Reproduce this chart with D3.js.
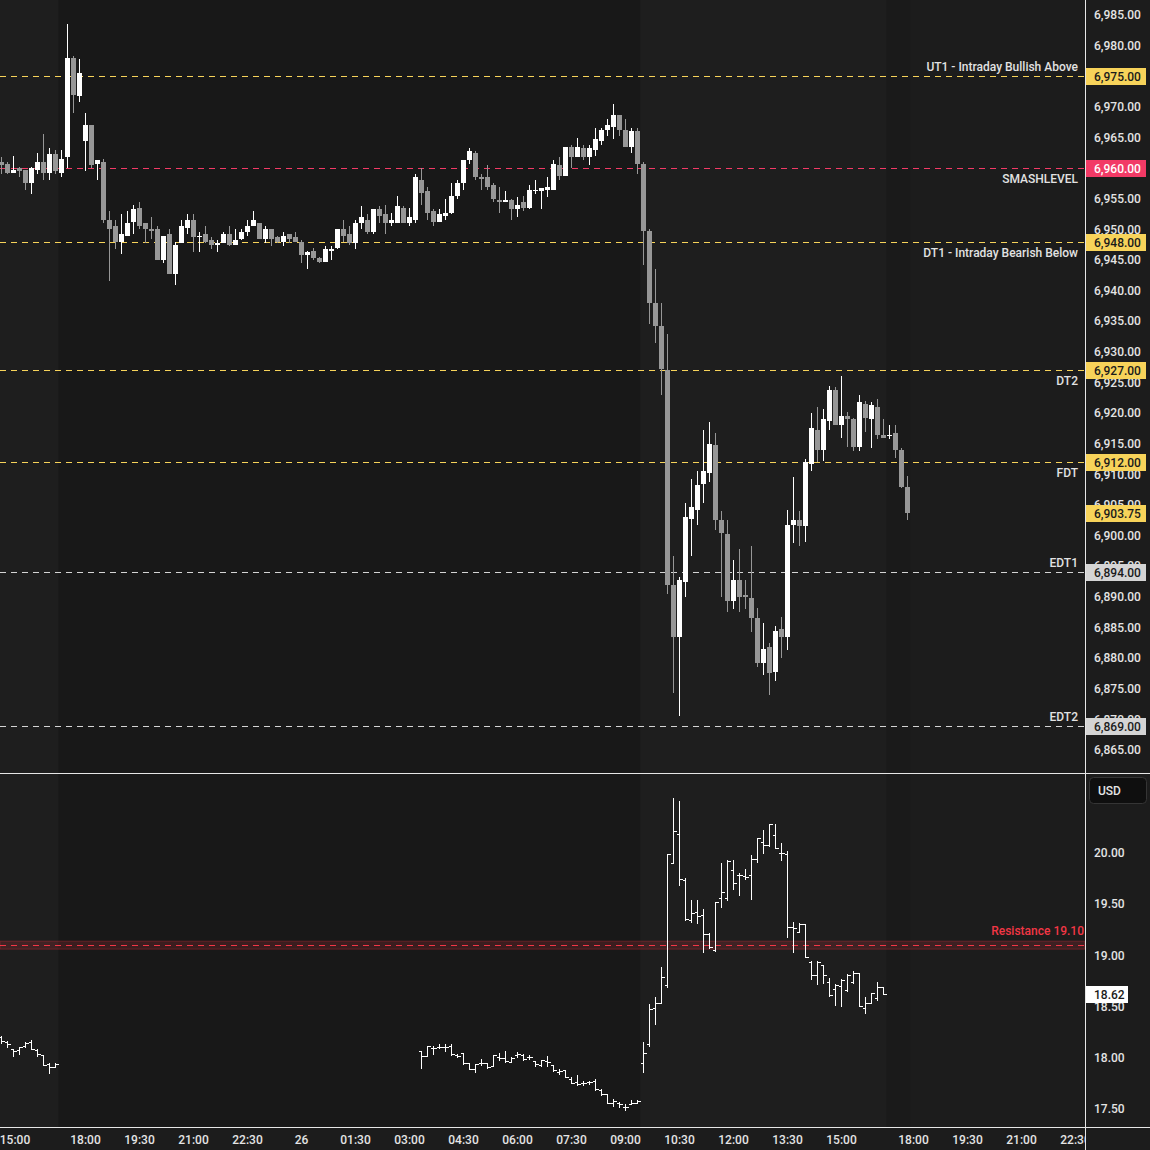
<!DOCTYPE html>
<html>
<head>
<meta charset="utf-8">
<script src="https://cdn.jsdelivr.net/npm/d3@7"></script>
<style>
  html, body { margin: 0; padding: 0; background: #1c1c1c; }
  svg { display: block; font-family: Roboto, "Liberation Sans", sans-serif; font-weight: 500; }
</style>
</head>
<body>
<svg id="chart"></svg>
<script>
const chartWidth = 1150;
const chartHeight = 1150;
const plotRight = 1085;
const mainBottom = 773;
const subBottom = 1127;
const barSpacing = 6;
const bodyWidth = 5;

// ES 10 minute candles, bar 0 = 14:40, bar 14 = 18:00 (session break skipped)
const esOpen = [
  6961, 6960.75, 6959.25, 6960, 6959.75, 6957.5, 6959.75, 6961, 6959.25, 6962.25,
  6959.25, 6961.75, 6978, 6971.75, 6964.5, 6967, 6960.75, 6961, 6951.5, 6950.5,
  6948, 6949, 6951.25, 6953.5, 6951, 6950, 6950, 6945, 6949.25, 6942.75,
  6947.75, 6950.25, 6951.5, 6948.75, 6949.25, 6948.25, 6947.5, 6947.75, 6949.25, 6947.5,
  6948.5, 6949.5, 6950.5, 6951, 6948.5, 6950, 6948.75, 6948, 6949.25, 6948.75,
  6948, 6945.75, 6946.5, 6945.25, 6944.75, 6946.5, 6947, 6950, 6949.25, 6947.75,
  6951, 6951.5, 6949.5, 6953.25, 6952.5, 6951, 6951, 6953.5, 6951, 6951.5,
  6958, 6956.25, 6953, 6951.25, 6952.25, 6952.75, 6955.5, 6957.5, 6961.25, 6962.5,
  6958.5, 6958.5, 6957.25, 6954.75, 6954.5, 6954.75, 6953.25, 6954.5, 6953.5, 6956.25,
  6956.25, 6956.5, 6956.5, 6960.5, 6958.75, 6963.5, 6961.75, 6963.25, 6961.75, 6963,
  6964.5, 6966.25, 6966.75, 6968.75, 6966.25, 6963.5, 6966, 6960.75, 6949.75, 6938,
  6934.25, 6927, 6892, 6883.5, 6892.5, 6902.75, 6904.25, 6908.5, 6910.25, 6914.75,
  6902.5, 6900.25, 6889.25, 6892.75, 6890.25, 6889.75, 6886.5, 6879.25, 6881.75, 6877.75,
  6884.75, 6883.5, 6901.75, 6902.5, 6901.5, 6911.75, 6917.25, 6914, 6918.75, 6923.75,
  6918, 6919.5, 6919, 6914.5, 6921.5, 6919, 6921, 6916.5, 6916.25, 6916.75,
  6914, 6908
];
const esHigh = [
  6961.75, 6961, 6962, 6960.25, 6959.75, 6960.25, 6962.5, 6965.5, 6963.25, 6963,
  6963, 6983.5, 6978.25, 6977.75, 6969, 6967, 6961.25, 6961.5, 6953, 6951.5,
  6952.5, 6953, 6954, 6954.5, 6951, 6952, 6950.5, 6949, 6950, 6948,
  6951.5, 6952.5, 6952.5, 6949.5, 6950.5, 6948.75, 6948.25, 6949.5, 6950.5, 6950,
  6950, 6951.5, 6953, 6951, 6950.5, 6950, 6949, 6949.5, 6949.25, 6949.5,
  6948.25, 6946.5, 6947, 6945.5, 6947.25, 6947.25, 6950, 6951.5, 6950.5, 6951.5,
  6953.75, 6952.5, 6953.25, 6953.75, 6954, 6952.75, 6955.5, 6953.75, 6953.5, 6959,
  6960, 6957, 6953.25, 6953.25, 6955, 6957.5, 6958, 6961.25, 6963.25, 6962.75,
  6959, 6960.5, 6957.5, 6957, 6956.25, 6955, 6955.25, 6955.5, 6957.25, 6958,
  6956.75, 6958.5, 6961.25, 6961.75, 6963.5, 6963.75, 6965, 6963.75, 6963.75, 6966.5,
  6966.5, 6968, 6970.5, 6968.75, 6968, 6966.5, 6966.5, 6961, 6950, 6943.5,
  6938, 6933, 6896.75, 6893.25, 6905.25, 6909.25, 6910.5, 6917.25, 6918.5, 6916.75,
  6904, 6902.5, 6896, 6897.75, 6892.75, 6898.25, 6888.25, 6885.75, 6882.5, 6885.25,
  6886.75, 6904.25, 6909.5, 6904, 6912.5, 6920, 6921, 6920.75, 6924.5, 6924.25,
  6926, 6920.25, 6919.25, 6923, 6922, 6921.75, 6922.25, 6919, 6918, 6918,
  6914.25, 6909.75
];
const esLow = [
  6959, 6959, 6959.25, 6958.5, 6956.5, 6955.75, 6959, 6958, 6958, 6959,
  6958.5, 6960, 6969, 6970.75, 6959.5, 6960, 6958, 6951, 6941.5, 6946.75,
  6946, 6949, 6949.25, 6950, 6947.75, 6948.5, 6945, 6944.5, 6942.75, 6941,
  6947.75, 6949.25, 6946.25, 6946.25, 6947.75, 6946.75, 6946.25, 6947.75, 6947.25, 6947.5,
  6948.25, 6949, 6950.5, 6948.5, 6947.75, 6947.25, 6947.75, 6947.25, 6947.75, 6948,
  6944.5, 6943.5, 6945, 6944.5, 6944.75, 6945, 6946.75, 6948, 6947.5, 6946.75,
  6950, 6949.25, 6949.25, 6951, 6949.25, 6950.5, 6951, 6951, 6950.5, 6951,
  6954, 6951.5, 6950.5, 6951.25, 6951.5, 6952.5, 6955, 6956.5, 6960.75, 6958,
  6956.5, 6956.5, 6954.5, 6952.75, 6954.5, 6951.5, 6952, 6953, 6953.25, 6955.75,
  6953.25, 6955.25, 6956.5, 6958, 6958.75, 6960, 6961.75, 6961.25, 6960.5, 6962,
  6963.75, 6965.25, 6964.75, 6965.25, 6963.5, 6962.5, 6959, 6944.25, 6934.5, 6931.5,
  6923, 6890.5, 6874.25, 6870.5, 6890, 6896.75, 6901.75, 6905.25, 6908.75, 6901,
  6890, 6887.5, 6888, 6887.5, 6888, 6884.25, 6878.5, 6877.25, 6874, 6876.25,
  6880, 6881.25, 6898.75, 6898.25, 6899, 6910.5, 6912, 6912.25, 6917.25, 6918,
  6916, 6914.5, 6913.75, 6913.75, 6917, 6914.25, 6915.75, 6916, 6915.75, 6912.75,
  6907.75, 6902.5
];
const esClose = [
  6960.5, 6959.25, 6959.75, 6959.5, 6957.5, 6960, 6961, 6959.25, 6962.25, 6959.5,
  6961.5, 6978, 6972, 6975.5, 6967, 6960.5, 6961.25, 6951.5, 6950, 6948,
  6949.25, 6951, 6953.25, 6950.5, 6950, 6949.75, 6945, 6949, 6942.75, 6947.5,
  6950.5, 6951.5, 6948.75, 6949, 6948, 6947.5, 6947.75, 6949.25, 6947.5, 6948.25,
  6949.5, 6950.5, 6951.5, 6948.5, 6950, 6948.5, 6948, 6949, 6948.5, 6948,
  6945.75, 6946.25, 6945.25, 6944.75, 6946.75, 6946.75, 6950, 6949, 6947.75, 6951,
  6952, 6949.5, 6953.25, 6952.25, 6951, 6951.5, 6953.75, 6951, 6952, 6958.5,
  6956, 6952.75, 6951.25, 6952.5, 6952.75, 6955.5, 6957.5, 6961.25, 6962.75, 6958.5,
  6958.25, 6957, 6955, 6954.5, 6954.75, 6953.25, 6954, 6953.5, 6956.5, 6956.5,
  6956.75, 6957, 6960.75, 6958.75, 6963.5, 6961.75, 6963.5, 6961.75, 6963.25, 6964.75,
  6966.25, 6967, 6968.75, 6966.25, 6963.5, 6966, 6960.75, 6949.75, 6938, 6934.25,
  6927.25, 6892, 6883.5, 6892.75, 6903, 6904.75, 6908.25, 6910.5, 6915, 6902.5,
  6900.5, 6889.25, 6892.75, 6890, 6890, 6886.5, 6879.25, 6881.5, 6877.5, 6884.5,
  6883.5, 6901.75, 6902.5, 6901.5, 6912, 6917.5, 6914, 6919, 6923.75, 6918,
  6919.5, 6919, 6914.5, 6921.75, 6919.25, 6921.25, 6916.5, 6916, 6916.5, 6914,
  6908, 6903.75
];

// VIX 10 minute bars (no prints between 16:15 and 03:15, none at 09:20)
const vixBar = d3.range(0, 10).concat(d3.range(70, 148));
const vixOpen = [
  18.20, 18.15, 18.09, 18.08, 18.12, 18.15, 18.08, 18.03, 17.94, 17.91,
  18.07, 18.02, 18.10, 18.11, 18.11, 18.12, 18.03, 18.05, 17.95, 17.89,
  17.95, 17.95, 17.92, 18.01, 18.00, 17.96, 18.03, 18.03, 18.01, 17.97,
  17.93, 17.97, 17.93, 17.86, 17.88, 17.79, 17.76, 17.75, 17.76, 17.77,
  17.69, 17.65, 17.56, 17.56, 17.52, 17.55, 17.56,
  17.95, 18.13, 18.49, 18.54, 18.71, 19.90, 20.19, 19.74, 19.35, 19.42,
  19.39, 19.21, 19.05, 19.56, 19.56, 19.83, 19.79, 19.78, 19.79, 19.94,
  20.11, 20.08, 20.18, 20.00, 19.99, 19.28, 19.23, 19.31, 18.94, 18.81,
  18.91, 18.74, 18.67, 18.70, 18.66, 18.74, 18.83, 18.49, 18.54, 18.58,
  18.69
];
const vixHigh = [
  18.21, 18.16, 18.09, 18.11, 18.15, 18.17, 18.09, 18.03, 17.95, 17.95,
  18.07, 18.12, 18.12, 18.13, 18.13, 18.13, 18.04, 18.05, 17.95, 17.94,
  17.99, 17.95, 18.03, 18.05, 18.07, 18.01, 18.06, 18.04, 18.03, 17.97,
  17.98, 18.02, 17.93, 17.89, 17.88, 17.81, 17.83, 17.77, 17.77, 17.79,
  17.70, 17.65, 17.60, 17.57, 17.55, 17.59, 17.59,
  18.15, 18.53, 18.59, 18.89, 19.99, 20.54, 20.51, 19.76, 19.54, 19.54,
  19.45, 19.22, 19.52, 19.90, 19.93, 19.93, 19.80, 19.84, 19.98, 20.15,
  20.22, 20.28, 20.28, 20.10, 20.02, 19.33, 19.32, 19.31, 18.95, 18.95,
  18.91, 18.78, 18.72, 18.77, 18.82, 18.85, 18.83, 18.59, 18.63, 18.74,
  18.69
];
const vixLow = [
  18.14, 18.11, 18.02, 18.04, 18.11, 18.09, 18.02, 17.93, 17.85, 17.91,
  17.90, 18.02, 18.04, 18.10, 18.07, 18.03, 18.01, 17.94, 17.89, 17.86,
  17.93, 17.90, 17.92, 17.98, 17.96, 17.96, 18.01, 17.98, 17.99, 17.92,
  17.92, 17.92, 17.87, 17.84, 17.81, 17.75, 17.73, 17.73, 17.74, 17.69,
  17.64, 17.56, 17.53, 17.52, 17.49, 17.55, 17.56,
  17.86, 18.12, 18.33, 18.54, 18.69, 19.90, 19.69, 19.35, 19.33, 19.32,
  19.03, 19.07, 19.04, 19.47, 19.54, 19.65, 19.59, 19.75, 19.55, 19.91,
  20.00, 20.07, 20.05, 19.93, 19.18, 19.03, 19.23, 18.98, 18.77, 18.72,
  18.73, 18.60, 18.52, 18.51, 18.65, 18.73, 18.51, 18.44, 18.54, 18.56,
  18.62
];
const vixClose = [
  18.16, 18.13, 18.07, 18.11, 18.14, 18.09, 18.04, 17.93, 17.91, 17.94,
  18.02, 18.12, 18.10, 18.11, 18.11, 18.04, 18.02, 17.95, 17.89, 17.94,
  17.95, 17.91, 18.03, 18.00, 17.97, 18.00, 18.04, 17.99, 18.01, 17.94,
  17.98, 17.96, 17.88, 17.87, 17.81, 17.75, 17.74, 17.75, 17.76, 17.70,
  17.65, 17.56, 17.58, 17.55, 17.52, 17.56, 17.58,
  18.05, 18.48, 18.54, 18.79, 19.99, 20.21, 19.75, 19.36, 19.41, 19.38,
  19.21, 19.08, 19.52, 19.62, 19.92, 19.71, 19.79, 19.77, 19.94, 20.15,
  20.08, 20.28, 20.05, 20.00, 19.28, 19.27, 19.31, 18.98, 18.81, 18.94,
  18.81, 18.61, 18.71, 18.76, 18.81, 18.83, 18.51, 18.54, 18.63, 18.69,
  18.62
];

const levelNames = ['UT1 - Intraday Bullish Above', 'SMASHLEVEL', 'DT1 - Intraday Bearish Below', 'DT2', 'FDT', 'EDT1', 'EDT2'];
const levelPrices = [6975, 6960, 6948, 6927, 6912, 6894, 6869];
const lastPrice = 6903.75;
const resistanceValue = 19.10;
const lastVix = 18.62;

const timeLabels = ['15:00', '18:00', '19:30', '21:00', '22:30', '26', '01:30', '03:00', '04:30', '06:00',
  '07:30', '09:00', '10:30', '12:00', '13:30', '15:00', '18:00', '19:30', '21:00', '22:30'];
const timeLabelBars = [2, 14, 23, 32, 41, 50, 59, 68, 77, 86, 95, 104, 113, 122, 131, 140, 152, 161, 170, 179];
// regular session covers bars up to 9, then 107..147
const sessionEdges = [9.5, 106.5, 147.5, 151.5];

function levelColor(name) {
  if (name === 'SMASHLEVEL') return '#f23a66';
  if (name.indexOf('EDT') === 0) return '#d4d4d4';
  return '#f7d35a';
}

function labelAbove(name) {
  return name.indexOf('UT1') === 0 || name.indexOf('EDT') === 0;
}

const xScale = d3.scaleLinear().domain([0, 180]).range([1.5, 1.5 + 180 * barSpacing]);
const yMain = d3.scaleLinear().domain([6865, 6985]).range([750, 15]);
const ySub = d3.scaleLinear().domain([17.5, 20]).range([1109, 853]);

const svg = d3.select('#chart')
  .attr('width', chartWidth)
  .attr('height', chartHeight);

const defs = svg.append('defs');
defs.append('clipPath').attr('id', 'clipMain')
  .append('rect').attr('x', 0).attr('y', 0).attr('width', plotRight).attr('height', mainBottom);
defs.append('clipPath').attr('id', 'clipSub')
  .append('rect').attr('x', 0).attr('y', mainBottom + 1).attr('width', plotRight).attr('height', subBottom - mainBottom - 1);
defs.append('clipPath').attr('id', 'clipTime')
  .append('rect').attr('x', 0).attr('y', subBottom).attr('width', plotRight).attr('height', chartHeight - subBottom);

svg.append('rect')
  .attr('width', chartWidth)
  .attr('height', chartHeight)
  .attr('fill', '#1c1c1c');

// ===========================================================================
//      session backgrounds
// ===========================================================================
const bandFills = ['#1e1e1e', '#181818', '#1e1e1e', '#1a1a1a', '#1c1c1c'];
const bandEdges = [0].concat(sessionEdges.map(function (b) { return xScale(b); })).concat([plotRight]);
[[0, mainBottom], [mainBottom + 1, subBottom]].forEach(function (panel) {
  svg.append('g')
    .selectAll('rect')
    .data(bandFills)
    .enter()
    .append('rect')
    .attr('x', function (d, i) { return bandEdges[i]; })
    .attr('y', panel[0])
    .attr('width', function (d, i) { return bandEdges[i + 1] - bandEdges[i]; })
    .attr('height', panel[1] - panel[0])
    .attr('fill', function (d) { return d; });
});

// ===========================================================================
//      level lines
// ===========================================================================
const levels = levelNames.map(function (name, i) {
  return { name, price: levelPrices[i], color: levelColor(name) };
});

const levelGroup = svg.append('g').attr('clip-path', 'url(#clipMain)');
levelGroup.selectAll('line')
  .data(levels)
  .enter()
  .append('line')
  .attr('x1', 0)
  .attr('x2', plotRight)
  .attr('y1', function (d) { return Math.round(yMain(d.price)) + 0.5; })
  .attr('y2', function (d) { return Math.round(yMain(d.price)) + 0.5; })
  .attr('stroke', function (d) { return d.color; })
  .attr('stroke-width', 1)
  .attr('stroke-dasharray', '6,5');

levelGroup.selectAll('text')
  .data(levels)
  .enter()
  .append('text')
  .text(function (d) { return d.name; })
  .attr('x', 1078)
  .attr('y', function (d) {
    return labelAbove(d.name) ? yMain(d.price) - 5 : yMain(d.price) + 15;
  })
  .attr('text-anchor', 'end')
  .attr('font-size', 12)
  .attr('fill', '#e2e2e2');

// ===========================================================================
//      candles
// ===========================================================================
const candles = esOpen.map(function (o, i) {
  return { i, o, h: esHigh[i], l: esLow[i], c: esClose[i] };
});

const candleGroup = svg.append('g')
  .attr('clip-path', 'url(#clipMain)')
  .attr('shape-rendering', 'crispEdges');

const candle = candleGroup.selectAll('g')
  .data(candles)
  .enter()
  .append('g');

candle.append('line')
  .attr('x1', function (d) { return xScale(d.i); })
  .attr('x2', function (d) { return xScale(d.i); })
  .attr('y1', function (d) { return yMain(d.h); })
  .attr('y2', function (d) { return yMain(d.l); })
  .attr('stroke', function (d) { return d.c >= d.o ? '#ffffff' : '#979797'; })
  .attr('stroke-width', 1);

candle.append('rect')
  .attr('x', function (d) { return xScale(d.i) - bodyWidth / 2; })
  .attr('y', function (d) { return yMain(Math.max(d.o, d.c)); })
  .attr('width', bodyWidth)
  .attr('height', function (d) { return Math.max(1, Math.abs(yMain(d.o) - yMain(d.c))); })
  .attr('fill', function (d) { return d.c >= d.o ? '#ffffff' : '#979797'; });

// ===========================================================================
//      lower pane: resistance + VIX bars
// ===========================================================================
const subGroup = svg.append('g').attr('clip-path', 'url(#clipSub)');

subGroup.append('rect')
  .attr('x', 0)
  .attr('y', ySub(resistanceValue) - 4)
  .attr('width', plotRight)
  .attr('height', 8)
  .attr('fill', 'rgba(242,54,69,0.16)')
  .attr('stroke', 'rgba(242,54,69,0.28)');

subGroup.append('line')
  .attr('x1', 0)
  .attr('x2', plotRight)
  .attr('y1', Math.round(ySub(resistanceValue)) + 0.5)
  .attr('y2', Math.round(ySub(resistanceValue)) + 0.5)
  .attr('stroke', '#f23645')
  .attr('stroke-width', 1)
  .attr('stroke-dasharray', '6,5');

subGroup.append('text')
  .text('Resistance ' + d3.format('.2f')(resistanceValue))
  .attr('x', 1084)
  .attr('y', ySub(resistanceValue) - 10)
  .attr('text-anchor', 'end')
  .attr('font-size', 12)
  .attr('fill', '#f23645');

const vix = vixBar.map(function (b, i) {
  return { b, o: vixOpen[i], h: vixHigh[i], l: vixLow[i], c: vixClose[i] };
});

const vixBars = subGroup.append('g')
  .attr('shape-rendering', 'crispEdges')
  .attr('stroke', '#ffffff')
  .attr('stroke-width', 1)
  .selectAll('g')
  .data(vix)
  .enter()
  .append('g');

vixBars.append('line')
  .attr('x1', function (d) { return xScale(d.b); })
  .attr('x2', function (d) { return xScale(d.b); })
  .attr('y1', function (d) { return ySub(d.h); })
  .attr('y2', function (d) { return ySub(d.l) + 1; });
vixBars.append('line')
  .attr('x1', function (d) { return xScale(d.b) - 3; })
  .attr('x2', function (d) { return xScale(d.b); })
  .attr('y1', function (d) { return Math.round(ySub(d.o)) + 0.5; })
  .attr('y2', function (d) { return Math.round(ySub(d.o)) + 0.5; });
vixBars.append('line')
  .attr('x1', function (d) { return xScale(d.b); })
  .attr('x2', function (d) { return xScale(d.b) + 3.5; })
  .attr('y1', function (d) { return Math.round(ySub(d.c)) + 0.5; })
  .attr('y2', function (d) { return Math.round(ySub(d.c)) + 0.5; });

// ===========================================================================
//      frame lines
// ===========================================================================
svg.append('g')
  .attr('stroke', '#e6e6e6')
  .attr('shape-rendering', 'crispEdges')
  .selectAll('line')
  .data([[plotRight + 0.5, 0, plotRight + 0.5, chartHeight], [0, mainBottom + 0.5, chartWidth, mainBottom + 0.5], [0, subBottom + 0.5, chartWidth, subBottom + 0.5]])
  .enter()
  .append('line')
  .attr('x1', function (d) { return d[0]; })
  .attr('y1', function (d) { return d[1]; })
  .attr('x2', function (d) { return d[2]; })
  .attr('y2', function (d) { return d[3]; });

// ===========================================================================
//      price axes
// ===========================================================================
const priceFmt = d3.format(',.2f');
const axisText = '#e4e4e4';

svg.append('g')
  .selectAll('text')
  .data(yMain.ticks(24))
  .enter()
  .append('text')
  .text(function (d) { return priceFmt(d); })
  .attr('x', 1094)
  .attr('y', function (d) { return yMain(d); })
  .attr('dy', '0.35em')
  .attr('font-size', 12)
  .attr('fill', axisText);

svg.append('g')
  .selectAll('text')
  .data(ySub.ticks(5))
  .enter()
  .append('text')
  .text(function (d) { return d3.format('.2f')(d); })
  .attr('x', 1094)
  .attr('y', function (d) { return ySub(d); })
  .attr('dy', '0.35em')
  .attr('font-size', 12)
  .attr('fill', axisText);

const priceTags = levels.map(function (d) {
  return { value: d.price, fill: d.color, text: d.name === 'SMASHLEVEL' ? '#ffffff' : '#1a1a1a' };
}).concat([{ value: lastPrice, fill: '#f7d35a', text: '#1a1a1a' }]);

const tag = svg.append('g')
  .selectAll('g')
  .data(priceTags)
  .enter()
  .append('g');
tag.append('rect')
  .attr('x', plotRight + 1)
  .attr('y', function (d) { return Math.round(yMain(d.value)) - 8; })
  .attr('width', 60)
  .attr('height', 17)
  .attr('fill', function (d) { return d.fill; });
tag.append('text')
  .text(function (d) { return priceFmt(d.value); })
  .attr('x', 1094)
  .attr('y', function (d) { return Math.round(yMain(d.value)) + 0.5; })
  .attr('dy', '0.35em')
  .attr('font-size', 12)
  .attr('fill', function (d) { return d.text; });

svg.append('rect')
  .attr('x', plotRight + 1)
  .attr('y', Math.round(ySub(lastVix)) - 8)
  .attr('width', 42)
  .attr('height', 17)
  .attr('fill', '#ffffff');
svg.append('text')
  .text(d3.format('.2f')(lastVix))
  .attr('x', 1094)
  .attr('y', Math.round(ySub(lastVix)) + 0.5)
  .attr('dy', '0.35em')
  .attr('font-size', 12)
  .attr('fill', '#1a1a1a');

svg.append('rect')
  .attr('x', 1089.5)
  .attr('y', 777.5)
  .attr('width', 57)
  .attr('height', 26)
  .attr('rx', 4)
  .attr('fill', '#0f0f0f')
  .attr('stroke', '#353535');
svg.append('text')
  .text('USD')
  .attr('x', 1098)
  .attr('y', 791)
  .attr('dy', '0.35em')
  .attr('font-size', 12)
  .attr('fill', axisText);

// ===========================================================================
//      time axis
// ===========================================================================
svg.append('g')
  .attr('clip-path', 'url(#clipTime)')
  .selectAll('text')
  .data(timeLabels)
  .enter()
  .append('text')
  .text(function (d) { return d; })
  .attr('x', function (d, i) { return Math.max(xScale(timeLabelBars[i]), 15); })
  .attr('y', 1140)
  .attr('dy', '0.35em')
  .attr('text-anchor', 'middle')
  .attr('font-size', 12)
  .attr('fill', axisText);
</script>
</body>
</html>
